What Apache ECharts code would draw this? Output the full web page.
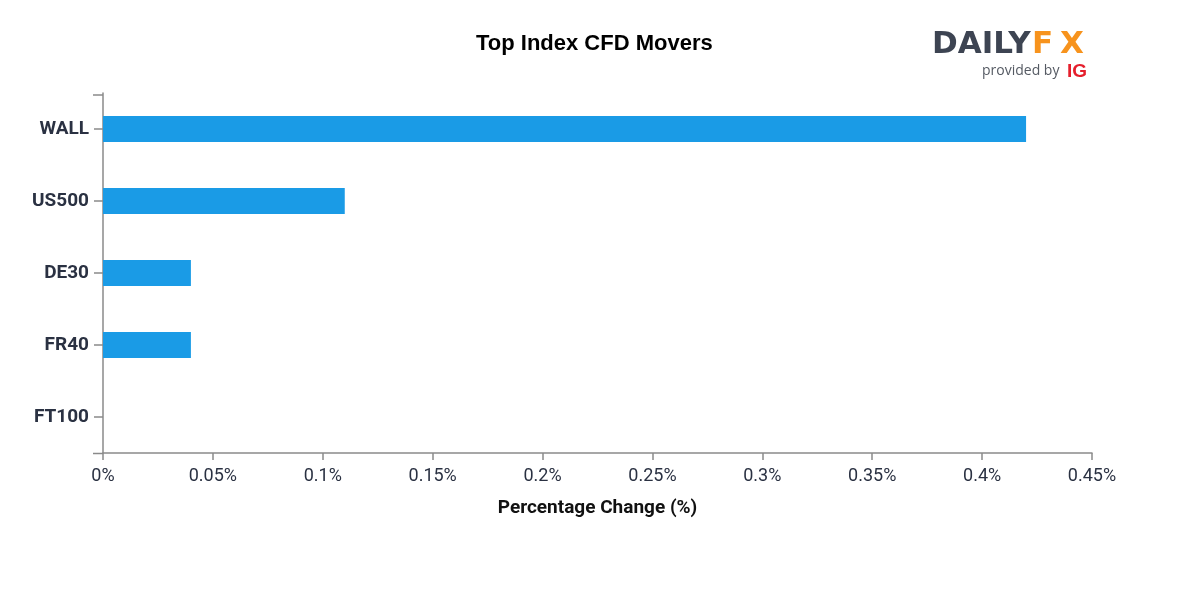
<!DOCTYPE html>
<html>
<head>
<meta charset="utf-8">
<script src="https://cdn.jsdelivr.net/npm/echarts@6/dist/echarts.min.js"></script>
<style>html,body{margin:0;padding:0;background:#fff;}#c{width:1200px;height:600px;}</style>
</head>
<body>
<div id="c"></div>
<script>
const categories = ['WALL', 'US500', 'DE30', 'FR40', 'FT100'];
const values = [0.42, 0.11, 0.04, 0.04, 0];
const xTicks = [0, 0.05, 0.1, 0.15, 0.2, 0.25, 0.3, 0.35, 0.4, 0.45];

const chart = echarts.init(document.getElementById('c'));
const axisGray = '#8a8a8a';
const labelColor = '#2a3142';
chart.setOption({
  animation: false,
  backgroundColor: '#fff',
  graphic: [
    { type: 'text', left: 476, top: 33, style: { text: 'Top Index CFD Movers', font: 'bold 22px "Liberation Sans"', fill: '#000' } },
    { type: 'line', shape: { x1: 93, y1: 95, x2: 103, y2: 95 }, style: { stroke: axisGray, lineWidth: 1.5 } },
    { type: 'line', shape: { x1: 93, y1: 453.5, x2: 103, y2: 453.5 }, style: { stroke: axisGray, lineWidth: 1.5 } },
    { type: 'text', left: 932, top: 29, style: { text: 'DAILY', font: 'bold 31px "DejaVu Sans"', fill: '#3d4452' } },
    { type: 'text', left: 1032, top: 29, style: { text: 'F', font: 'bold 31px "DejaVu Sans"', fill: '#f7931d' } },
    { type: 'text', left: 1060, top: 29, style: { text: 'X', font: 'bold 31px "DejaVu Sans"', fill: '#f7931d' } },
    { type: 'text', left: 982, top: 64, style: { text: 'provided by', font: '14px "Open Sans"', fill: '#555a63' } },
    { type: 'text', left: 1067, top: 62, style: { text: 'IG', font: 'bold 19px "Liberation Sans"', fill: '#e51f2c' } }
  ],
  grid: { left: 103, right: 108, top: 93, bottom: 147, containLabel: false },
  xAxis: {
    type: 'value', min: xTicks[0], max: xTicks[xTicks.length - 1], interval: 0.05,
    name: 'Percentage Change (%)', nameLocation: 'middle', nameGap: 46,
    nameTextStyle: { fontFamily: 'Roboto', fontWeight: 'bold', fontSize: 19, color: '#111' },
    axisLine: { show: true, lineStyle: { color: axisGray, width: 1.5 } },
    axisTick: { show: true, length: 7, lineStyle: { color: axisGray, width: 1.5 } },
    splitLine: { show: false },
    axisLabel: {
      margin: 14, fontFamily: 'Roboto', fontSize: 18, color: labelColor,
      formatter: v => parseFloat(v.toFixed(2)) + '%'
    }
  },
  yAxis: {
    type: 'category', data: categories, inverse: true,
    axisLine: { show: true, lineStyle: { color: axisGray, width: 1.5 } },
    axisTick: { show: true, alignWithLabel: true, length: 9, lineStyle: { color: axisGray, width: 1.5 } },
    axisLabel: { margin: 14, fontFamily: 'Roboto', fontWeight: 'bold', fontSize: 19, color: labelColor }
  },
  series: [{
    type: 'bar', data: values, barWidth: 26,
    itemStyle: { color: '#1a9be6' }
  }]
});
</script>
</body>
</html>
